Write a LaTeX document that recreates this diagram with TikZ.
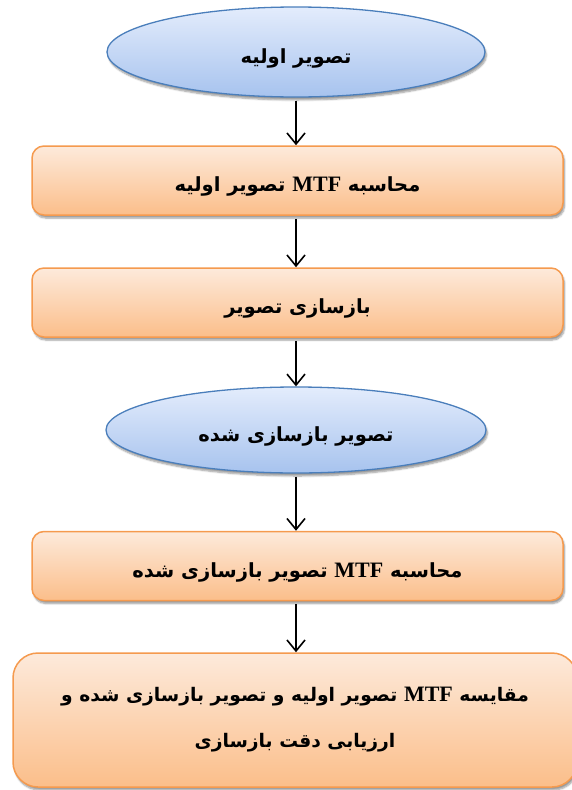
\documentclass[tikz,border=0pt]{standalone}
\usepackage{fontspec}
\TeXXeTstate=1
\newfontfamily\arabicfont[Script=Arabic]{DejaVu Sans}
\newfontfamily\latinserif{Liberation Serif}
\usetikzlibrary{arrows.meta,shapes.geometric,shadows.blur}
\definecolor{ellTop}{HTML}{E3ECFC}
\definecolor{ellBot}{HTML}{A7C3EE}
\definecolor{ellLine}{HTML}{4A7EBB}
\definecolor{boxTop}{HTML}{FDEADB}
\definecolor{boxBot}{HTML}{FBBE8A}
\definecolor{boxLine}{HTML}{F59A4E}
\tikzset{
  ellnode/.style={ellipse, draw=ellLine, line width=1.3pt, top color=ellTop, bottom color=ellBot,
    blur shadow={shadow xshift=1.5pt, shadow yshift=-3pt, shadow blur steps=6, shadow opacity=40},
    inner sep=0pt, text height=22pt, text depth=0pt, font=\arabicfont\bfseries\fontsize{19.5}{22}\selectfont},
  boxnode/.style={rectangle, rounded corners=12pt, draw=boxLine, line width=1.5pt, top color=boxTop, bottom color=boxBot,
    blur shadow={shadow xshift=1.5pt, shadow yshift=-3pt, shadow blur steps=6, shadow opacity=40},
    inner sep=0pt, font=\arabicfont\bfseries\fontsize{19.5}{22}\selectfont},
  onebox/.style={boxnode, text height=22pt, text depth=0pt},
  flow/.style={line width=1.6pt, -{Straight Barb[length=11pt,width=18pt,line width=1.6pt]}}
}
\newcommand{\mtf}{\beginL{\latinserif\bfseries\fontsize{22}{22}\selectfont MTF}\endL{}}
\begin{document}
\begin{tikzpicture}[x=1pt,y=1pt]
\useasboundingbox (0,0) rectangle (572,-790);
\node[ellnode, minimum width=378pt, minimum height=90pt] (e1) at (296,-52) {\beginR تصویر اولیه\endR};
\node[onebox, minimum width=531pt, minimum height=69pt] (b1) at (297.5,-180.5) {\beginR محاسبه \mtf\ تصویر اولیه\endR};
\node[onebox, minimum width=531pt, minimum height=69pt] (b2) at (297.5,-302.5) {\beginR بازسازی تصویر\endR};
\node[ellnode, minimum width=380pt, minimum height=86pt] (e2) at (296,-430) {\beginR تصویر بازسازی شده\endR};
\node[onebox, minimum width=531pt, minimum height=69pt] (b3) at (297.5,-566) {\beginR محاسبه \mtf\ تصویر بازسازی شده\endR};
\node[boxnode, rounded corners=25pt, minimum width=564pt, minimum height=134pt, align=center,
  font=\arabicfont\bfseries\fontsize{18.7}{22}\selectfont] (b4) at (295,-720)
  {\beginR مقایسه \mtf\ تصویر اولیه و تصویر بازسازی شده و\endR\\[24pt]\beginR ارزیابی دقت بازسازی\endR};
\draw[flow, shorten <=3pt] (e1.south -| 296,0) -- (b1.north -| 296,0);
\draw[flow, shorten <=3pt] (b1.south -| 296,0) -- (b2.north -| 296,0);
\draw[flow, shorten <=3pt] (b2.south -| 296,0) -- (e2.north -| 296,0);
\draw[flow, shorten <=3pt] (e2.south -| 296,0) -- (b3.north -| 296,0);
\draw[flow, shorten <=3pt] (b3.south -| 296,0) -- (b4.north -| 296,0);
\end{tikzpicture}
\end{document}
